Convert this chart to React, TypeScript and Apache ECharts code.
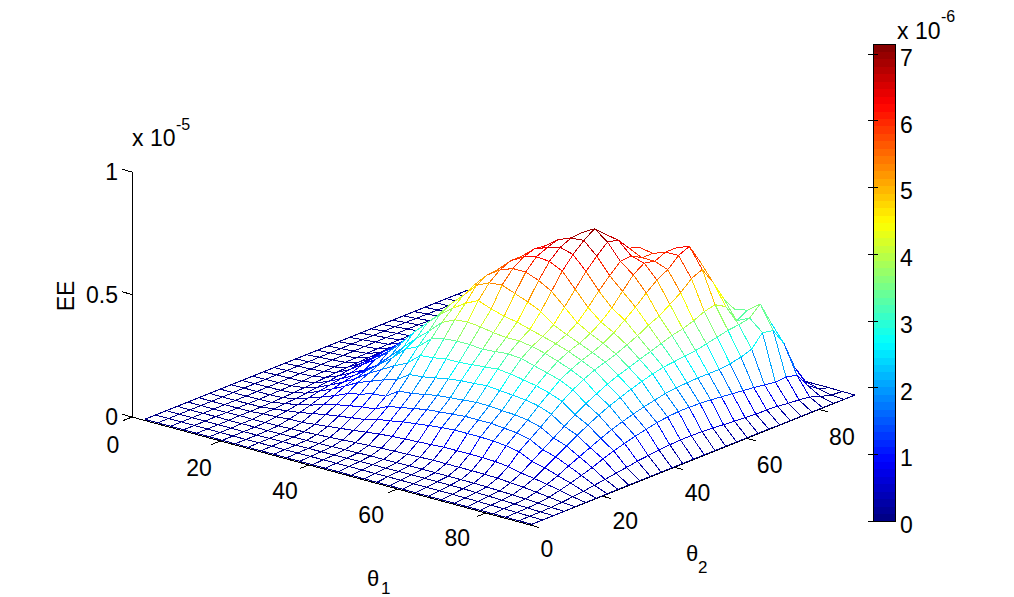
import React, { useEffect, useRef } from "react";
import * as echarts from "echarts";

// EE values (unit 1e-8), indexed [theta1 step][theta2 step], lower triangle (surface is symmetric)
const eeLowerRows: number[][] = [
  [0],
  [0, 0],
  [0, 0, 0],
  [0, 0, 0, 1],
  [0, 0, 0, 0, 2],
  [0, 0, 0, 1, 1, 6],
  [0, 0, 0, 1, 2, 8, 15],
  [0, 0, 0, 1, 3, 13, 22, 35],
  [0, 1, 1, 2, 5, 14, 32, 50, 70],
  [0, 1, 2, 3, 7, 20, 42, 65, 92, 120],
  [0, 1, 2, 4, 10, 26, 50, 75, 105, 140, 170],
  [0, 2, 3, 5, 13, 32, 58, 85, 120, 160, 200, 250],
  [0, 2, 4, 7, 17, 38, 65, 90, 125, 175, 225, 275, 320],
  [0, 3, 5, 9, 20, 45, 80, 115, 160, 210, 270, 320, 370, 410],
  [0, 3, 6, 10, 23, 52, 88, 125, 165, 215, 275, 335, 395, 445, 500],
  [0, 4, 7, 12, 26, 56, 98, 135, 175, 225, 285, 340, 400, 470, 525, 560],
  [0, 4, 8, 12, 28, 60, 105, 145, 185, 235, 285, 340, 395, 450, 530, 580, 610],
  [0, 4, 8, 13, 30, 63, 112, 150, 190, 242, 290, 335, 385, 435, 510, 580, 625, 645],
  [0, 5, 9, 14, 32, 66, 118, 155, 195, 245, 295, 340, 380, 425, 490, 560, 620, 660, 680],
  [0, 5, 10, 15, 34, 70, 122, 160, 200, 250, 300, 345, 380, 410, 465, 530, 595, 645, 685, 715],
  [0, 5, 10, 15, 34, 70, 122, 160, 200, 245, 295, 340, 372, 395, 425, 480, 535, 590, 635, 675, 665],
  [0, 5, 10, 15, 34, 70, 122, 160, 195, 240, 285, 325, 358, 380, 400, 430, 475, 525, 570, 610, 615, 590],
  [0, 5, 10, 15, 34, 70, 120, 155, 192, 235, 275, 310, 340, 362, 378, 400, 430, 470, 520, 570, 600, 590, 610],
  [0, 5, 10, 15, 34, 68, 115, 150, 185, 225, 260, 295, 320, 340, 355, 375, 400, 435, 470, 510, 545, 570, 610, 630],
  [0, 4, 9, 14, 32, 62, 105, 138, 170, 205, 240, 270, 295, 315, 330, 345, 365, 385, 410, 430, 460, 490, 530, 550, 480],
  [0, 4, 8, 12, 28, 50, 80, 110, 140, 170, 200, 228, 250, 272, 290, 305, 320, 335, 350, 365, 375, 390, 410, 420, 395, 320],
  [0, 3, 6, 10, 24, 42, 68, 95, 122, 148, 172, 195, 215, 232, 248, 262, 275, 285, 290, 295, 300, 310, 320, 330, 335, 345, 385],
  [0, 3, 5, 8, 18, 32, 50, 72, 92, 112, 132, 150, 165, 178, 190, 200, 210, 215, 218, 220, 220, 220, 225, 235, 250, 300, 290, 220],
  [0, 2, 3, 5, 12, 22, 34, 48, 62, 80, 95, 108, 120, 130, 140, 146, 150, 150, 148, 145, 140, 135, 130, 125, 118, 112, 115, 105, 45],
  [0, 1, 1, 2, 5, 10, 15, 22, 28, 36, 42, 50, 55, 60, 64, 66, 66, 65, 62, 58, 55, 52, 48, 48, 45, 40, 36, 30, 15, 3],
  [0, 0, 0, 0, 1, 1, 1, 1, 2, 2, 2, 2, 2, 2, 2, 2, 2, 2, 2, 2, 2, 2, 2, 1, 1, 1, 1, 1, 1, 0, 0],
];

const theta1Ticks = [0, 20, 40, 60, 80];
const theta2Ticks = [0, 20, 40, 60, 80];
const zTicks = [0, 5, 10];
const zTickLabels = ["0", "0.5", "1"];
const colorbarTicks = [0, 1, 2, 3, 4, 5, 6, 7];
const colorMax = 7.15;

const N = eeLowerRows.length;
const eeAt = (u: number, v: number) => eeLowerRows[Math.max(u, v)][Math.min(u, v)] / 100;
const t1At = (u: number) => 2.5 + (u * 87.5) / (N - 1);
const t2At = (v: number) => 0.5 + (v * 89.5) / (N - 1);

// oblique projection of (theta1, theta2, EE in 1e-6) on the page
const project = (t1: number, t2: number, z: number): [number, number] => [
  132 + (t1 * 398) / 90 + (t2 * 325) / 90,
  417 + (t1 * 108) / 90 - (t2 * 130) / 90 - z * 24.5,
];

const jetAt = (i: number) => {
  const t = (i + 0.5) / 64;
  const c = (x: number) => Math.round(255 * Math.max(0, Math.min(1, x)));
  return `rgb(${c(1.5 - Math.abs(4 * t - 3))},${c(1.5 - Math.abs(4 * t - 2))},${c(1.5 - Math.abs(4 * t - 1))})`;
};
const jetFor = (z: number) => jetAt(Math.max(0, Math.min(63, Math.floor((z / colorMax) * 64))));

const FONT = "Liberation Sans";
const TICK_SIZE = 23;

export default function App() {
  const ref = useRef<HTMLDivElement>(null);
  useEffect(() => {
    document.body.style.margin = "0";
    const chart = echarts.init(ref.current!, undefined, { renderer: "svg" });

    const cells: number[][] = [];
    for (let u = 0; u < N - 1; u++) for (let v = 0; v < N - 1; v++) cells.push([u, v]);
    cells.sort((a, b) => a[0] - a[1] - (b[0] - b[1]));

    const segments: number[][] = [];
    const texts: any[] = [];
    const addSeg = (a: [number, number], b: [number, number]) => segments.push([a[0], a[1], b[0], b[1]]);
    const label = (text: string, x: number, y: number, size: number, align = "left") => ({
      type: "text", x, y, style: { text, font: `${size}px '${FONT}'`, fill: "#000", align, verticalAlign: "middle" },
    });
    addSeg(project(0, 0, 0), project(0, 0, 10));
    addSeg(project(0, 0, 0), project(90, 0, 0));
    addSeg(project(90, 0, 0), project(90, 90, 0));
    theta1Ticks.forEach((t) => {
      const p = project(t, 0, 0);
      addSeg(p, project(t, -2.5, 0));
      texts.push(label(String(t), p[0] - 19 - t * 0.12, p[1] + 28 - t * 0.04, TICK_SIZE, "center"));
    });
    theta2Ticks.forEach((t) => {
      const p = project(90, t, 0);
      addSeg(p, project(92, t, 0));
      texts.push(label(String(t), p[0] + (t === 0 ? 17 : 23), p[1] + 24 + t * 0.05, TICK_SIZE, "center"));
    });
    zTicks.forEach((z, i) => {
      const p = project(0, 0, z);
      addSeg(p, project(-2.2, 0, z));
      texts.push(label(zTickLabels[i], 118, p[1], TICK_SIZE, "right"));
    });

    texts.push(
      label("x 10", 132, 138, TICK_SIZE),
      label("-5", 176, 124, 16),
      label("x 10", 897, 31, TICK_SIZE),
      label("-6", 941, 16, 16),
      label("θ", 367, 578, 22),
      label("1", 381, 588, 17),
      label("θ", 686, 553, 22),
      label("2", 698, 567, 17),
      { type: "text", x: 66, y: 296, rotation: Math.PI / 2, style: { text: "EE", font: `${TICK_SIZE}px '${FONT}'`, fill: "#000", align: "center", verticalAlign: "middle" } },
    );

    chart.setOption({
      animation: false,
      backgroundColor: "#fff",
      grid: [
        { left: 0, top: 0, width: 1014, height: 597, show: false },
        { left: 873, top: 44, width: 22, height: 477, show: true, borderColor: "#000", borderWidth: 1, z: 5 },
      ],
      xAxis: [
        { type: "value", gridIndex: 0, min: 0, max: 1014, show: false },
        { type: "value", gridIndex: 1, min: 0, max: 1, show: false },
      ],
      yAxis: [
        { type: "value", gridIndex: 0, min: 0, max: 597, inverse: true, show: false },
        {
          type: "value", gridIndex: 1, min: 0, max: colorMax, position: "right", z: 6,
          axisLine: { show: false }, splitLine: { show: false },
          axisTick: { show: true, inside: true, length: 5, lineStyle: { color: "#000" }, customValues: colorbarTicks },
          axisLabel: { show: false },
        },
        {
          type: "value", gridIndex: 1, min: 0, max: colorMax, position: "left", z: 6,
          axisLine: { show: false }, splitLine: { show: false },
          axisTick: { show: true, inside: true, length: 5, lineStyle: { color: "#000" }, customValues: colorbarTicks },
          axisLabel: { show: false },
        },
      ],
      series: [
        {
          type: "custom", name: "axes", coordinateSystem: "cartesian2d", xAxisIndex: 0, yAxisIndex: 0,
          silent: true, z: 1, clip: false, data: segments,
          renderItem: (_: any, api: any) => {
            const a = api.coord([api.value(0), api.value(1)]);
            const b = api.coord([api.value(2), api.value(3)]);
            return { type: "line", shape: { x1: a[0], y1: a[1], x2: b[0], y2: b[1] }, style: { stroke: "#000", lineWidth: 1 } };
          },
        },
        {
          type: "custom", name: "EE", coordinateSystem: "cartesian2d", xAxisIndex: 0, yAxisIndex: 0,
          silent: true, z: 2, clip: false, progressive: 0, data: cells,
          renderItem: (_: any, api: any) => {
            const u = api.value(0);
            const v = api.value(1);
            const corners = [[u, v], [u + 1, v], [u + 1, v + 1], [u, v + 1]];
            const zs = corners.map(([a, b]) => eeAt(a, b));
            const pts = corners.map(([a, b], i) => {
              const p = project(t1At(a), t2At(b), zs[i]);
              return api.coord([p[0], p[1]]);
            });
            const children: any[] = [
              { type: "polygon", shape: { points: pts }, style: { fill: "#fff", stroke: "none" } },
            ];
            for (let i = 0; i < 4; i++) {
              const j = (i + 1) % 4;
              children.push({
                type: "line",
                shape: { x1: pts[i][0], y1: pts[i][1], x2: pts[j][0], y2: pts[j][1] },
                style: { stroke: jetFor((zs[i] + zs[j]) / 2), lineWidth: 1 },
              });
            }
            return { type: "group", children };
          },
        },
        {
          type: "custom", name: "colorbar", coordinateSystem: "cartesian2d", xAxisIndex: 1, yAxisIndex: 1,
          silent: true, z: 2, data: Array.from({ length: 64 }, (_, i) => [i]),
          renderItem: (_: any, api: any) => {
            const i = api.value(0);
            const a = api.coord([0, (i / 64) * colorMax]);
            const b = api.coord([1, ((i + 1) / 64) * colorMax]);
            return { type: "rect", shape: { x: a[0], y: b[1], width: b[0] - a[0], height: a[1] - b[1] + 0.5 }, style: { fill: jetAt(i) } };
          },
        },
        {
          type: "custom", name: "colorbarLabels", coordinateSystem: "cartesian2d", xAxisIndex: 1, yAxisIndex: 1,
          silent: true, z: 7, clip: false, data: colorbarTicks.map((t) => [t]),
          renderItem: (_: any, api: any) => {
            const t = api.value(0);
            const p = api.coord([1, t]);
            return { type: "text", x: p[0] + 5, y: p[1] + 4, style: { text: String(t), font: `${TICK_SIZE}px '${FONT}'`, fill: "#000", align: "left", verticalAlign: "middle" } };
          },
        },
      ],
      graphic: { elements: texts },
    });
    return () => chart.dispose();
  }, []);
  return (
    <>
      <style>{"svg path{shape-rendering:crispEdges}"}</style>
      <div ref={ref} style={{ position: "absolute", left: 0, top: 0, width: 1014, height: 597 }} />
    </>
  );
}
